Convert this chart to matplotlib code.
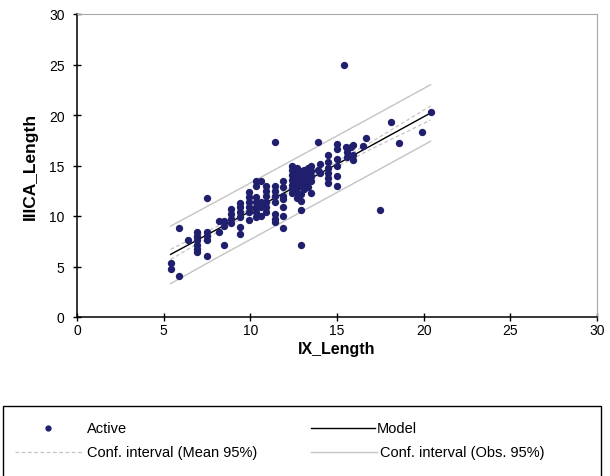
import numpy as np
import matplotlib.pyplot as plt
from matplotlib.lines import Line2D
from matplotlib.patches import Rectangle

plt.rcParams['font.family'] = ['Liberation Sans', 'DejaVu Sans']

# ─── Data ─────────────────────────────────────────────────────────────────────
ix_length = [
    5.4, 5.4, 5.9, 5.9, 6.4,
    6.9, 6.9, 6.9, 6.9, 6.9, 6.9,
    7.5, 7.5, 7.5, 7.5, 7.5,
    8.2, 8.2, 8.5, 8.5, 8.5,
    8.9, 8.9, 8.9, 8.9,
    9.4, 9.4, 9.4, 9.4, 9.4, 9.4,
    9.9, 9.9, 9.9, 9.9, 9.9, 9.9,
    10.3, 10.3, 10.3, 10.3, 10.3, 10.3, 10.3,
    10.6, 10.6, 10.6, 10.6,
    10.9, 10.9, 10.9, 10.9, 10.9, 10.9,
    11.4, 11.4, 11.4, 11.4, 11.4, 11.4, 11.4, 11.4,
    11.9, 11.9, 11.9, 11.9, 11.9, 11.9, 11.9,
    12.4, 12.4, 12.4, 12.4, 12.4, 12.4, 12.4,
    12.7, 12.7, 12.7, 12.7, 12.7, 12.7, 12.7,
    12.9, 12.9, 12.9, 12.9, 12.9, 12.9, 12.9, 12.9,
    13.1, 13.1, 13.1, 13.1, 13.1,
    13.3, 13.3, 13.3, 13.3, 13.3,
    13.5, 13.5, 13.5, 13.5, 13.5,
    13.9, 13.9, 14.0, 14.0,
    14.5, 14.5, 14.5, 14.5, 14.5, 14.5,
    15.0, 15.0, 15.0, 15.0, 15.0, 15.0,
    15.4, 15.5, 15.6, 15.6,
    15.8, 15.9, 15.9, 15.9,
    16.5, 16.7,
    17.5, 18.1, 18.6, 19.9, 20.4,
]
iiica_length = [
    5.3, 4.8, 8.8, 4.1, 7.6,
    8.4, 8.0, 7.6, 7.1, 6.7, 6.4,
    11.8, 8.4, 8.0, 7.6, 6.0,
    9.5, 8.4, 9.5, 9.0, 7.1,
    10.7, 10.2, 9.7, 9.3,
    11.3, 10.9, 10.4, 9.9, 8.9, 8.2,
    12.4, 11.9, 11.4, 10.9, 10.4, 9.6,
    13.5, 13.0, 11.9, 11.4, 10.9, 10.4, 9.9,
    13.5, 11.4, 10.9, 10.0,
    13.0, 12.5, 12.0, 11.4, 10.9, 10.4,
    17.3, 13.0, 12.5, 12.0, 11.4, 10.2, 9.7, 9.4,
    13.5, 12.9, 12.0, 11.7, 10.9, 10.0, 8.8,
    15.0, 14.6, 14.1, 13.6, 13.1, 12.7, 12.3,
    14.8, 14.3, 13.8, 13.3, 12.8, 12.3, 11.8,
    14.5, 14.0, 13.5, 13.0, 12.2, 11.5, 10.6, 7.1,
    14.6, 14.2, 13.7, 13.2, 12.7,
    14.8, 14.3, 13.9, 13.4, 12.9,
    15.0, 14.5, 14.0, 13.5, 12.3,
    17.3, 14.6, 15.1, 14.3,
    16.0, 15.3, 14.8, 14.3, 13.8, 13.3,
    17.1, 16.6, 15.6, 15.0, 14.0, 13.0,
    25.0, 16.8, 16.3, 15.8,
    16.8, 17.0, 16.0, 15.5,
    16.9, 17.7,
    10.6, 19.3, 17.2, 18.3, 20.3,
]

# model and confidence bands, read at a few x positions
band_x = [5.4, 8.0, 11.0, 14.0, 17.0, 20.4]
model_y = [6.2, 8.6, 11.4, 14.2, 17.0, 20.2]
mean_upper = [6.7, 8.9, 11.6, 14.4, 17.35, 20.9]
mean_lower = [5.7, 8.3, 11.2, 14.0, 16.65, 19.5]
obs_upper = [9.0, 11.4, 14.2, 17.0, 19.8, 23.0]
obs_lower = [3.3, 5.8, 8.6, 11.4, 14.2, 17.4]

W, H = 610, 477
NAVY = '#1f1f6e'
GREY = '#c4c4c4'


def fx(px):
    return px / W


def fy(py):
    return 1 - py / H


fig = plt.figure(figsize=(W / 100, H / 100), dpi=100)
ax = fig.add_axes([fx(77), fy(318), fx(597) - fx(77), fy(15) - fy(318)])

ax.plot(band_x, obs_upper, color=GREY, lw=1.0)
ax.plot(band_x, obs_lower, color=GREY, lw=1.0)
ax.plot(band_x, mean_upper, color=GREY, lw=0.9, ls=(0, (3, 2)))
ax.plot(band_x, mean_lower, color=GREY, lw=0.9, ls=(0, (3, 2)))
ax.plot(band_x, model_y, color='black', lw=1.0)
ax.scatter(ix_length, iiica_length, s=28, color=NAVY, zorder=3, linewidths=0)

ax.set_xlim(0, 30)
ax.set_ylim(0, 30)
ax.set_xticks(range(0, 31, 5))
ax.set_yticks(range(0, 31, 5))
ax.tick_params(direction='inout', length=6, width=1, labelsize=10)
ax.tick_params(axis='x', pad=1.5)
ax.tick_params(axis='y', pad=6)
for side in ('top', 'right'):
    ax.spines[side].set_color('#a8a8a8')
for side in ('left', 'bottom'):
    ax.spines[side].set_linewidth(1.1)

ax.set_xlabel('IX_Length', fontsize=11.5, fontweight='bold', labelpad=3)
ax.set_ylabel('IIICA_Length', fontsize=12.5, fontweight='bold', labelpad=8)

# ─── Legend box (drawn by hand, full width under the chart) ───────────────────
fig.add_artist(Rectangle((fx(3), fy(480)), fx(601) - fx(3), fy(407) - fy(480),
                         transform=fig.transFigure, fill=False,
                         edgecolor='black', lw=1.0, clip_on=False))

row1, row2 = 429, 453
fs = 10.5
fig.add_artist(Line2D([fx(48)], [fy(row1)], marker='o', markersize=3.5,
                      color=NAVY, ls='none', transform=fig.transFigure))
fig.text(fx(87), fy(row1), 'Active', fontsize=fs, va='center')
fig.add_artist(Line2D([fx(311), fx(375)], [fy(row1), fy(row1)], color='black',
                      lw=1.0, transform=fig.transFigure))
fig.text(fx(377), fy(row1), 'Model', fontsize=fs, va='center')
fig.add_artist(Line2D([fx(15), fx(83)], [fy(row2), fy(row2)], color=GREY,
                      lw=0.9, ls=(0, (3, 2)), transform=fig.transFigure))
fig.text(fx(87), fy(row2), 'Conf. interval (Mean 95%)', fontsize=fs, va='center')
fig.add_artist(Line2D([fx(311), fx(377)], [fy(row2), fy(row2)], color=GREY,
                      lw=1.0, transform=fig.transFigure))
fig.text(fx(380), fy(row2), 'Conf. interval (Obs. 95%)', fontsize=fs, va='center')

fig.savefig('out.png', dpi=100)
